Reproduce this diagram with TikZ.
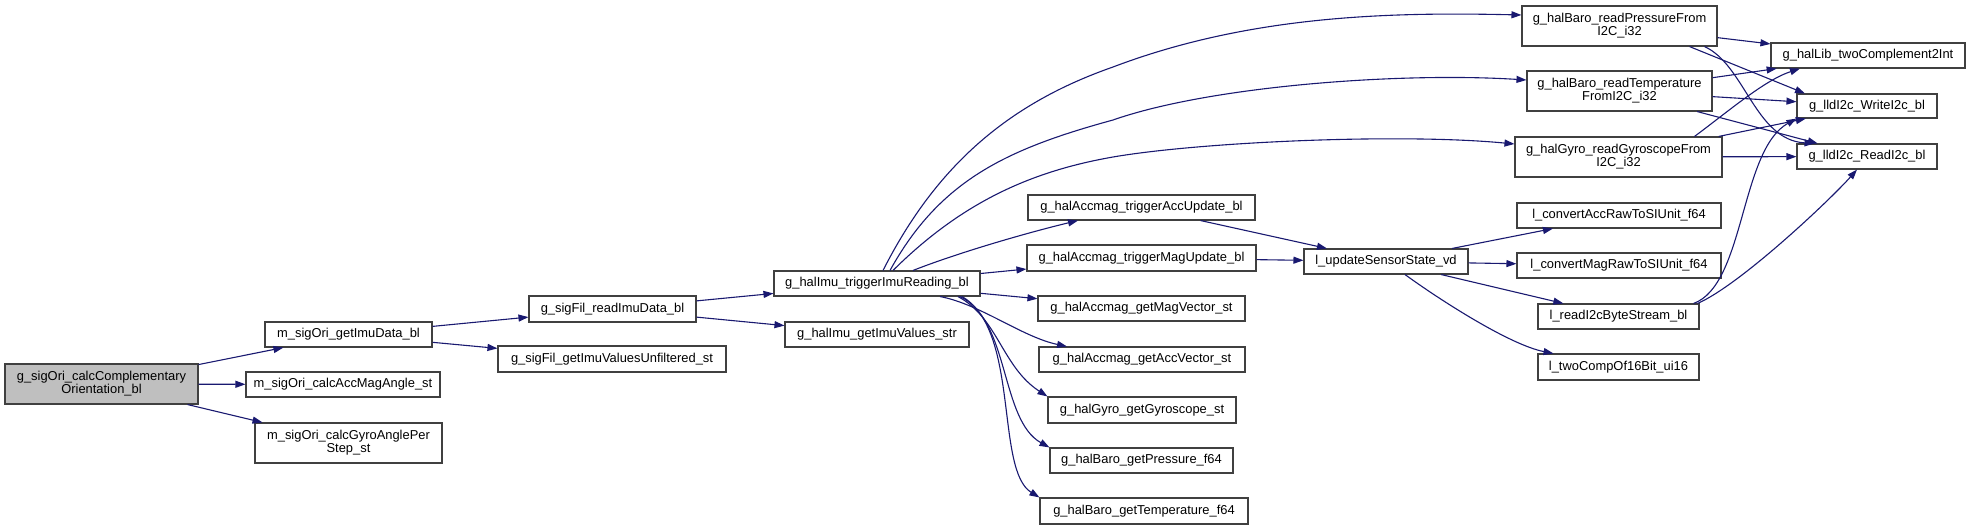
\documentclass[tikz,border=0pt]{standalone}
\usepackage{fontspec}
\usepackage{tikz}
\usetikzlibrary{arrows.meta}
\newfontfamily\doxfont{Liberation Sans}
\definecolor{edgeblue}{HTML}{191970}
\definecolor{rootgrey}{HTML}{BFBFBF}

\begin{document}
\begin{tikzpicture}[x=1pt, y=-1pt,
  fn/.style={draw=black!75, line width=1.1pt, fill=white, inner sep=0pt, align=center,
    font=\doxfont\fontsize{12.9}{13}\selectfont},
  call/.style={draw=edgeblue, line width=1.1pt, -{Triangle[length=10pt,width=7pt]}}]
  \useasboundingbox (0,0) rectangle (1971,530);

  % Caller and first level
  \node[fn, fill=rootgrey, minimum width=193pt, minimum height=40pt] (root) at (101.5,384) {g\_sigOri\_calcComplementary\\Orientation\_bl};
  \node[fn, minimum width=167pt, minimum height=25pt] (gid) at (348.5,334.5) {m\_sigOri\_getImuData\_bl};
  \node[fn, minimum width=194pt, minimum height=25pt] (cam) at (343,384.5) {m\_sigOri\_calcAccMagAngle\_st};
  \node[fn, minimum width=187pt, minimum height=40pt] (cgy) at (348.5,443) {m\_sigOri\_calcGyroAnglePer\\Step\_st};

  % Filter level
  \node[fn, minimum width=167pt, minimum height=26pt] (rid) at (612.5,309) {g\_sigFil\_readImuData\_bl};
  \node[fn, minimum width=228pt, minimum height=26pt] (ivu) at (612,359) {g\_sigFil\_getImuValuesUnfiltered\_st};

  % IMU level
  \node[fn, minimum width=206pt, minimum height=25pt] (tir) at (877,283.5) {g\_halImu\_triggerImuReading\_bl};
  \node[fn, minimum width=184pt, minimum height=25pt] (ivs) at (877,334.5) {g\_halImu\_getImuValues\_str};

  % HAL level
  \node[fn, minimum width=227pt, minimum height=25pt] (tau) at (1141.5,207.5) {g\_halAccmag\_triggerAccUpdate\_bl};
  \node[fn, minimum width=229pt, minimum height=26pt] (tmu) at (1141.5,258) {g\_halAccmag\_triggerMagUpdate\_bl};
  \node[fn, minimum width=207pt, minimum height=25pt] (gmv) at (1141.5,308.5) {g\_halAccmag\_getMagVector\_st};
  \node[fn, minimum width=206pt, minimum height=25pt] (gav) at (1142,359.5) {g\_halAccmag\_getAccVector\_st};
  \node[fn, minimum width=188pt, minimum height=26pt] (ggy) at (1142,410) {g\_halGyro\_getGyroscope\_st};
  \node[fn, minimum width=183pt, minimum height=25pt] (gpr) at (1141.5,460.5) {g\_halBaro\_getPressure\_f64};
  \node[fn, minimum width=208pt, minimum height=26pt] (gtm) at (1144,511) {g\_halBaro\_getTemperature\_f64};
  \node[fn, minimum width=164pt, minimum height=25pt] (usv) at (1386,261.5) {l\_updateSensorState\_vd};

  % Sensor readers and helpers
  \node[fn, minimum width=195pt, minimum height=40pt] (rpr) at (1619.5,26) {g\_halBaro\_readPressureFrom\\I2C\_i32};
  \node[fn, minimum width=185pt, minimum height=40pt] (rtm) at (1619.5,91) {g\_halBaro\_readTemperature\\FromI2C\_i32};
  \node[fn, minimum width=207pt, minimum height=40pt] (rgy) at (1618.5,157) {g\_halGyro\_readGyroscopeFrom\\I2C\_i32};
  \node[fn, minimum width=204pt, minimum height=25pt] (cacc) at (1619,215.5) {l\_convertAccRawToSIUnit\_f64};
  \node[fn, minimum width=204pt, minimum height=25pt] (cmag) at (1619,265.5) {l\_convertMagRawToSIUnit\_f64};
  \node[fn, minimum width=161pt, minimum height=25pt] (rbs) at (1618.5,316.5) {l\_readI2cByteStream\_bl};
  \node[fn, minimum width=161pt, minimum height=26pt] (tco) at (1618.5,367) {l\_twoCompOf16Bit\_ui16};

  % Low level
  \node[fn, minimum width=194pt, minimum height=25pt] (tci) at (1868,55.5) {g\_halLib\_twoComplement2Int};
  \node[fn, minimum width=140pt, minimum height=24pt] (wri) at (1867,106) {g\_lldI2c\_WriteI2c\_bl};
  \node[fn, minimum width=140pt, minimum height=25pt] (rdi) at (1867,156.5) {g\_lldI2c\_ReadI2c\_bl};

  % Calls
  \draw[call] (root) -- (gid);
  \draw[call] (root) -- (cam);
  \draw[call] (root) -- (cgy);
  \draw[call] (gid) -- (rid);
  \draw[call] (gid) -- (ivu);
  \draw[call] (rid) -- (tir);
  \draw[call] (rid) -- (ivs);

  \draw[call] ([xshift=6pt]tir.north) .. controls (937,164) and (1010,103) .. (1113,67)
    .. controls (1250,15) and (1391,12) .. ([yshift=11pt]rpr.west);
  \draw[call] ([xshift=13pt]tir.north) .. controls (940,180) and (1007,149) .. (1113,120)
    .. controls (1210,86) and (1400,72) .. ([yshift=11pt]rtm.west);
  \draw[call] ([xshift=16pt]tir.north) .. controls (963,201) and (1033,171) .. (1113,157)
    .. controls (1200,142) and (1400,133) .. ([yshift=13pt]rgy.west);
  \draw[call] ([xshift=36pt]tir.north) .. controls (960,252) and (1030,232) .. ([xshift=-63.5pt]tau.south);
  \draw[call] (tir) -- (tmu);
  \draw[call] (tir) -- (gmv);
  \draw[call] ([xshift=63pt]tir.south) .. controls (980,304) and (1022,337) .. ([xshift=-75pt]gav.north);
  \draw[call] ([xshift=81pt]tir.south) .. controls (998,318) and (1002,367) .. (ggy.north west);
  \draw[call] ([xshift=83pt]tir.south) .. controls (1010,320) and (1000,420) .. (gpr.north west);
  \draw[call] ([xshift=85pt]tir.south) .. controls (1020,330) and (995,470) .. (gtm.north west);

  \draw[call] (tau) -- (usv);
  \draw[call] (tmu) -- (usv);
  \draw[call] (usv) -- (cacc);
  \draw[call] (usv) -- (cmag);
  \draw[call] (usv) -- (rbs);
  \draw[call] ([xshift=19pt]usv.south) .. controls (1440,300) and (1510,345) .. ([xshift=-65pt]tco.north);

  \draw[call] (rpr) -- (tci);
  \draw[call] ([xshift=70pt]rpr.south) -- ([xshift=-62pt]wri.north);
  \draw[call] ([xshift=85pt]rpr.south) .. controls (1745,65) and (1755,140) .. ([xshift=18pt]rdi.north west);
  \draw[call] (rtm) -- (tci);
  \draw[call] (rtm) -- (wri);
  \draw[call] (rtm) -- (rdi);
  \draw[call] ([xshift=76pt]rgy.north) .. controls (1730,110) and (1765,80) .. ([xshift=-68pt]tci.south);
  \draw[call] (rgy) -- (wri);
  \draw[call] (rgy) -- (rdi);
  \draw[call] ([xshift=-6pt]rbs.north east) .. controls (1745,285) and (1740,150) .. (wri.south west);
  \draw[call] ([xshift=-2pt]rbs.north east) .. controls (1740,285) and (1830,200) .. ([xshift=-10pt]rdi.south);
\end{tikzpicture}
\end{document}
